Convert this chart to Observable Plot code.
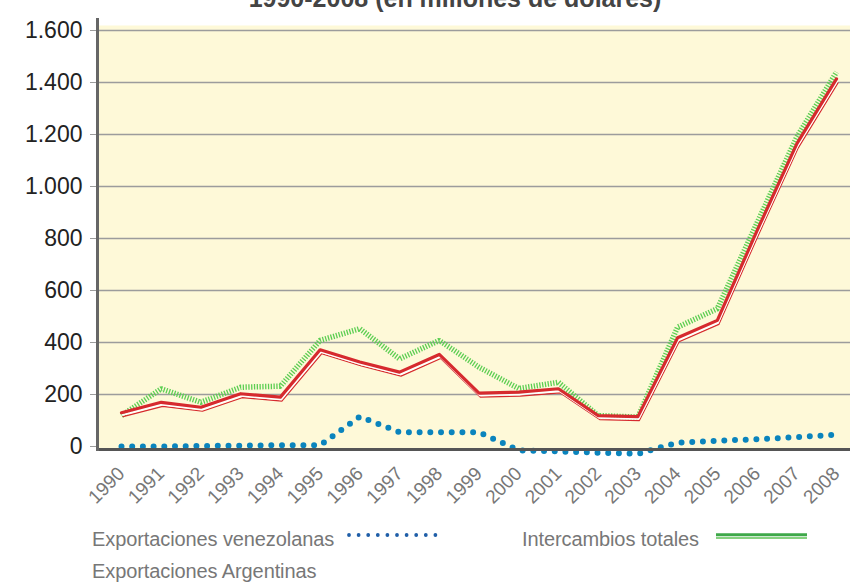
<!DOCTYPE html>
<html><head><meta charset="utf-8">
<script src="https://cdn.jsdelivr.net/npm/d3@7"></script>
<script src="https://cdn.jsdelivr.net/npm/@observablehq/plot@0.6"></script>
<style>
body{margin:0;background:#fff;font-family:"Liberation Sans",Arial,sans-serif;}
#wrap{position:relative;width:850px;height:582px;overflow:hidden;}
#title{position:absolute;left:0;width:910px;text-align:center;top:-14px;font-weight:bold;font-size:25px;line-height:25px;color:#444;white-space:nowrap;}
#chart{position:absolute;left:0;top:0;}
.leg{position:absolute;font-size:20px;line-height:20px;color:#777;white-space:nowrap;letter-spacing:-0.1px;}
.sw{position:absolute;}
</style></head>
<body>
<div id="wrap">
<div id="title">1990-2008 (en millones de dólares)</div>
<div id="chart"></div>
<div class="leg" style="left:92px;top:529px;">Exportaciones venezolanas</div>
<svg class="sw" style="left:345px;top:528px;" width="105" height="14"><line x1="4" x2="100" y1="7" y2="7" stroke="#1f5ea8" stroke-width="3.8" stroke-linecap="round" stroke-dasharray="0,9.6"/></svg>
<div class="leg" style="left:522px;top:529px;">Intercambios totales</div>
<svg class="sw" style="left:716px;top:530px;" width="92" height="12"><line x1="0" x2="91" y1="4.7" y2="4.7" stroke="#3ea849" stroke-width="3"/><line x1="0" x2="91" y1="8" y2="8" stroke="#86d17f" stroke-width="2"/></svg>
<div class="leg" style="left:92px;top:561px;">Exportaciones Argentinas</div>
</div>
<script>
const years = [1990,1991,1992,1993,1994,1995,1996,1997,1998,1999,2000,2001,2002,2003,2004,2005,2006,2007,2008];
const exportacionesArgentinas = [130,170,151,203,190,372,325,286,354,205,209,222,119,115,418,485,830,1164,1414];
const intercambiosTotales = [119,222,170,228,232,408,453,337,408,305,223,247,119,113,459,530,860,1190,1440];
const exportacionesVenezolanas = [0,0,2,3,5,5,115,55,55,55,-15,-19,-24,-28,15,22,28,36,45];
const yTicks = [0,200,400,600,800,1000,1200,1400,1600];

const data = years.map((year,i)=>({year, arg: exportacionesArgentinas[i], tot: intercambiosTotales[i], ven: exportacionesVenezolanas[i]}));
const fmt = d => d3.format(",")(d).replace(/,/g,".");

const chart = Plot.plot({
  width: 850, height: 510,
  marginLeft: 97, marginRight: 0, marginTop: 30, marginBottom: 64,
  x: {domain:[1990,2008], range:[121,836]},
  y: {domain:[0,1600]},
  style: {background:"transparent", fontFamily:"'Liberation Sans', Arial, sans-serif", overflow:"visible"},
  marks: [
    Plot.frame({fill:"#fef9d8", stroke:null, insetTop:-5, insetBottom:-4}),
    Plot.gridY(yTicks.filter(d=>d>0), {stroke:"#9c9c9c", strokeOpacity:1, strokeWidth:1.5}),
    Plot.axisY(yTicks, {tickSize:7, tickPadding:8, fontSize:23, tickFormat: fmt, stroke:"#9c9c9c", fill:"#222", label:null}),
    Plot.axisX(years, {tickSize:0, tickPadding:24, tickRotate:-45, fontSize:19, fill:"#777", tickFormat: d=>String(d), label:null}),
    Plot.lineY(data, {x:"year", y:"tot", stroke:"#5cce52", strokeWidth:5.5, strokeDasharray:"1.3,1.5", strokeLinecap:"butt", strokeLinejoin:"miter"}),
    Plot.lineY(data, {x:"year", y:"arg", stroke:"#d62a2e", strokeWidth:1.2, dx:1.5, dy:4}),
    Plot.lineY(data, {x:"year", y:"arg", stroke:"#ffffff", strokeWidth:1.8, dx:0.8, dy:2.2}),
    Plot.lineY(data, {x:"year", y:"arg", stroke:"#d62a2e", strokeWidth:3.2}),
    Plot.lineY(data, {x:"year", y:"ven", stroke:"#0a84bd", strokeWidth:6, strokeDasharray:"0,10.7", strokeLinecap:"round"}),
    Plot.ruleY([0], {dy:3, stroke:"#555", strokeWidth:3}),
    Plot.ruleX([1990], {dx:-24, stroke:"#666", strokeWidth:3, insetTop:-12, insetBottom:-5})
  ]
});
document.getElementById("chart").appendChild(chart);
</script>
</body></html>
